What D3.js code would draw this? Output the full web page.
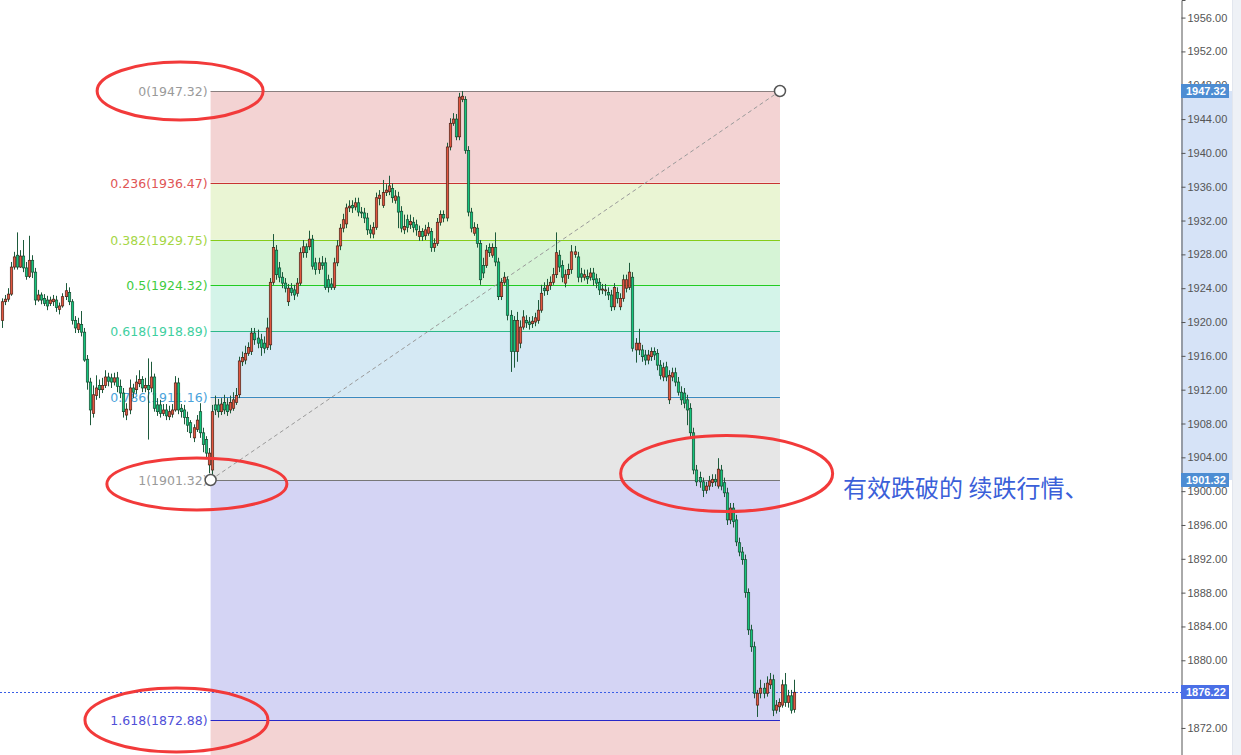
<!DOCTYPE html>
<html><head><meta charset="utf-8">
<script src="https://cdn.jsdelivr.net/npm/d3@7"></script>
<style>html,body{margin:0;padding:0;background:#fff;overflow:hidden}</style>
</head><body><svg id="c" width="1241" height="755"></svg>
<script>
// ---- data ----
const opens = [
1920.2,1922.4,1922.7,1923.3,1926.5,1927.9,1926.5,1927.8,1926.4,1925.4,
1927.3,1925.9,1922.6,1923.2,1922.8,1922.6,1922.2,1922.4,1922.6,1921.5,
1921.9,1923.0,1923.5,1922.4,1920.2,1919.1,1919.7,1918.8,1915.6,1912.9,
1909.2,1911.3,1912.5,1912.0,1912.5,1913.5,1913.4,1912.9,1913.4,1912.4,
1911.6,1909.0,1909.6,1912.2,1912.0,1912.7,1913.2,1912.2,1912.5,1912.2,
1913.5,1910.2,1910.2,1909.2,1909.6,1908.8,1909.1,1909.6,1912.8,1909.8,
1909.6,1908.7,1908.1,1906.3,1907.3,1909.4,1906.9,1906.1,1903.1,1902.5,
1910.2,1910.2,1909.4,1910.5,1910.2,1909.6,1909.8,1910.5,1911.4,1915.3,
1915.5,1916.3,1916.5,1918.7,1918.1,1917.9,1917.5,1917.0,1917.3,1924.7,
1928.5,1926.4,1925.3,1924.6,1922.4,1924.0,1923.8,1923.4,1924.6,1928.2,
1928.9,1928.9,1929.8,1927.0,1926.2,1927.0,1927.0,1925.0,1924.5,1924.1,
1927.0,1929.0,1931.1,1931.6,1933.5,1933.8,1933.6,1934.1,1933.0,1932.9,
1932.3,1930.9,1930.4,1931.2,1934.6,1933.8,1935.3,1935.4,1935.8,1934.4,
1934.8,1933.1,1930.9,1932.1,1931.5,1931.8,1931.5,1930.1,1930.7,1930.2,
1930.5,1930.7,1928.8,1929.3,1931.8,1932.7,1932.3,1940.7,1943.5,1944.0,
1941.9,1946.3,1946.3,1940.3,1933.0,1930.5,1931.1,1929.3,1926.7,1926.7,
1928.8,1927.9,1928.8,1927.1,1923.0,1924.7,1925.0,1920.8,1920.2,1916.5,
1917.5,1919.4,1920.2,1920.0,1919.8,1920.0,1920.2,1921.4,1924.0,1923.7,
1924.3,1924.7,1925.6,1927.9,1926.7,1924.6,1925.6,1926.2,1928.0,1927.7,
1925.7,1925.3,1925.4,1925.3,1925.8,1925.1,1924.7,1923.8,1923.7,1923.5,
1923.2,1921.8,1923.5,1921.8,1922.8,1924.0,1924.1,1925.3,1916.7,1916.7,
1916.7,1916.1,1915.5,1915.9,1916.5,1916.3,1914.9,1913.5,1914.7,1910.8,
1913.5,1914.0,1912.9,1911.7,1911.6,1910.8,1909.8,1906.9,1902.5,1901.6,
1901.1,1900.1,1900.6,1901.0,1901.4,1900.6,1902.5,1901.0,1899.8,1896.6,
1898.0,1896.6,1893.9,1892.8,1891.9,1888.0,1883.6,1881.6,1874.7,1876.1,
1876.7,1876.1,1877.1,1877.7,1874.1,1874.5,1874.7,1877.1,1875.0,1875.8,
1874.2];
const highs = [
1922.8,1923.2,1924.0,1927.1,1928.3,1930.6,1928.5,1929.7,1927.1,1930.2,
1927.9,1926.4,1923.8,1923.5,1923.3,1923.1,1923.0,1923.2,1923.1,1922.3,
1923.4,1924.6,1924.1,1922.7,1920.7,1920.5,1921.3,1919.3,1916.1,1913.4,
1912.5,1913.7,1913.2,1913.4,1914.3,1914.0,1913.9,1914.0,1914.1,1913.2,
1912.2,1910.4,1913.2,1912.7,1913.7,1914.3,1913.6,1913.4,1915.7,1915.3,
1913.9,1911.0,1910.8,1910.3,1910.3,1910.1,1910.3,1913.6,1913.4,1910.3,
1910.2,1909.4,1908.4,1907.9,1909.0,1910.4,1907.5,1906.5,1905.1,1910.2,
1911.3,1910.9,1911.0,1911.4,1911.0,1911.3,1911.7,1912.2,1915.9,1916.5,
1917.2,1917.6,1919.3,1919.3,1919.1,1918.6,1918.3,1920.5,1925.2,1930.4,
1929.1,1927.1,1925.9,1925.2,1924.5,1924.6,1924.4,1925.2,1928.8,1929.7,
1929.3,1930.8,1930.3,1927.6,1927.6,1927.8,1927.6,1925.6,1925.2,1927.6,
1929.7,1931.6,1932.8,1934.0,1934.4,1934.4,1934.7,1934.7,1933.6,1933.5,
1932.9,1931.5,1931.8,1935.3,1935.6,1936.8,1936.3,1937.3,1936.4,1935.6,
1935.4,1933.7,1932.7,1932.7,1932.7,1932.4,1932.1,1931.4,1931.1,1931.5,
1931.8,1931.1,1929.9,1932.3,1933.2,1933.2,1941.2,1944.1,1944.7,1944.6,
1947.1,1947.32,1946.7,1940.8,1933.5,1931.8,1931.6,1929.7,1927.6,1929.1,
1929.3,1929.3,1930.6,1927.6,1925.2,1925.9,1925.4,1921.4,1920.7,1921.2,
1920.2,1921.4,1920.8,1920.6,1920.7,1921.1,1922.6,1924.4,1924.7,1925.1,
1925.4,1926.4,1930.6,1928.5,1927.3,1926.2,1926.9,1929.1,1929.0,1928.3,
1926.4,1926.2,1926.2,1926.4,1926.4,1925.7,1925.2,1924.5,1924.5,1924.1,
1923.8,1924.6,1924.1,1923.4,1925.6,1925.6,1927.0,1925.9,1918.1,1919.2,
1917.3,1916.7,1916.7,1917.0,1917.0,1916.8,1915.5,1915.2,1915.3,1914.3,
1914.6,1914.6,1913.5,1912.4,1912.2,1911.4,1910.4,1907.5,1903.1,1902.3,
1901.6,1901.1,1901.8,1902.0,1902.0,1903.9,1903.1,1901.6,1900.4,1898.6,
1898.6,1897.2,1894.5,1893.4,1892.5,1888.5,1884.2,1882.2,1876.5,1877.7,
1877.3,1878.1,1878.5,1878.3,1875.3,1875.5,1877.7,1878.5,1876.5,1876.5,
1877.7];
const lows = [
1919.3,1922.0,1922.4,1923.1,1926.2,1926.2,1926.4,1925.9,1925.0,1925.2,
1925.2,1922.0,1922.4,1922.1,1921.9,1921.4,1921.9,1921.9,1921.2,1920.9,
1921.7,1922.6,1922.0,1919.7,1918.7,1918.7,1918.3,1915.3,1912.0,1907.8,
1908.7,1910.8,1911.0,1911.6,1912.2,1912.4,1912.2,1912.5,1911.7,1911.0,
1908.7,1908.4,1909.1,1911.0,1911.5,1912.3,1911.7,1911.7,1906.1,1911.7,
1909.4,1908.9,1908.7,1908.9,1908.4,1908.4,1908.7,1909.4,1909.1,1908.7,
1907.9,1907.0,1906.3,1905.8,1907.0,1906.3,1904.6,1903.9,1902.1,1901.32,
1909.0,1908.7,1909.0,1909.1,1908.9,1909.2,1909.5,1910.2,1911.0,1914.8,
1915.0,1916.0,1916.1,1917.3,1916.9,1916.0,1916.3,1916.7,1916.7,1924.4,
1925.0,1924.7,1924.0,1923.5,1921.9,1923.1,1922.6,1923.0,1924.3,1927.6,
1927.6,1928.5,1926.2,1925.6,1925.7,1926.2,1923.8,1923.5,1923.8,1923.8,
1926.6,1928.5,1930.6,1931.1,1933.0,1932.9,1933.2,1932.5,1932.3,1931.7,
1930.3,1929.9,1929.9,1930.9,1933.8,1933.5,1934.9,1935.0,1934.1,1934.0,
1931.1,1930.6,1930.4,1930.6,1931.0,1930.6,1930.2,1929.6,1929.6,1929.7,
1930.2,1928.3,1928.3,1929.0,1931.4,1931.8,1931.9,1940.3,1943.2,1941.5,
1941.5,1946.0,1939.9,1932.5,1930.6,1930.2,1928.8,1924.4,1925.2,1926.4,
1927.7,1927.6,1926.6,1922.6,1922.6,1924.4,1920.2,1914.1,1914.6,1915.3,
1916.9,1919.1,1919.3,1919.1,1919.3,1919.5,1919.8,1921.1,1923.1,1923.2,
1923.8,1924.4,1925.2,1925.9,1924.7,1924.1,1925.1,1925.7,1927.6,1924.7,
1924.7,1924.9,1924.5,1924.9,1924.3,1924.0,1923.2,1923.3,1923.1,1922.6,
1921.3,1921.4,1922.2,1921.4,1922.4,1923.5,1923.8,1916.5,1915.2,1916.1,
1915.3,1914.9,1915.0,1915.4,1915.5,1914.3,1913.2,1913.0,1913.0,1910.3,
1913.0,1912.4,1911.3,1910.2,1909.8,1907.8,1906.4,1902.0,1900.6,1900.4,
1899.3,1899.7,1900.1,1900.5,1900.6,1900.3,1900.1,1899.3,1896.0,1896.1,
1895.7,1893.5,1892.3,1891.3,1887.4,1883.0,1881.0,1875.5,1873.3,1875.5,
1875.5,1875.7,1876.6,1873.4,1873.7,1873.9,1874.4,1874.5,1874.4,1873.7,
1873.8];
const closes = [
1922.4,1922.7,1923.3,1926.5,1927.7,1926.5,1927.8,1926.4,1925.4,1927.3,
1925.9,1922.6,1923.2,1922.6,1922.2,1921.9,1922.6,1922.7,1921.7,1921.9,
1923.0,1923.7,1922.4,1920.2,1919.3,1919.8,1918.8,1915.5,1912.9,1909.6,
1911.4,1912.2,1912.0,1912.5,1913.5,1913.0,1912.9,1913.4,1912.4,1911.6,
1909.4,1909.7,1912.2,1911.7,1912.9,1913.2,1912.2,1912.5,1912.0,1913.5,
1909.8,1909.4,1909.2,1909.6,1908.9,1909.4,1909.6,1912.8,1909.6,1909.4,
1908.7,1907.8,1906.9,1907.5,1908.4,1906.9,1905.5,1904.5,1904.5,1909.4,
1909.6,1909.4,1910.3,1909.6,1909.4,1910.5,1910.8,1911.3,1915.4,1915.8,
1916.3,1917.0,1918.7,1917.9,1917.5,1917.0,1916.9,1919.3,1924.7,1928.8,
1925.6,1925.3,1924.6,1924.0,1924.0,1923.5,1923.2,1924.6,1928.2,1928.9,
1928.2,1929.8,1926.6,1926.2,1927.0,1926.7,1924.1,1924.1,1924.1,1927.0,
1929.0,1931.1,1932.1,1933.5,1933.7,1933.5,1934.1,1933.0,1932.9,1932.3,
1930.9,1930.5,1931.2,1934.7,1935.0,1935.3,1935.6,1936.1,1934.7,1934.9,
1933.0,1931.1,1931.3,1931.2,1931.9,1931.2,1930.9,1930.7,1930.1,1930.9,
1931.2,1928.8,1929.3,1931.8,1932.7,1932.3,1940.7,1943.5,1944.0,1941.9,
1946.6,1946.7,1940.3,1933.0,1931.1,1931.2,1929.3,1925.0,1925.8,1928.5,
1928.2,1928.8,1927.1,1923.0,1924.7,1925.3,1920.8,1916.5,1916.5,1920.2,
1919.4,1920.6,1919.9,1919.7,1920.1,1920.5,1921.4,1923.4,1923.7,1924.3,
1924.7,1925.6,1928.2,1926.5,1925.3,1925.6,1926.2,1928.3,1928.3,1925.3,
1925.3,1925.6,1925.1,1925.8,1925.0,1924.6,1923.8,1923.9,1923.8,1923.2,
1921.8,1924.1,1922.8,1922.8,1925.0,1925.0,1925.9,1916.9,1917.5,1917.5,
1915.9,1915.5,1916.1,1916.5,1916.1,1914.9,1913.7,1914.6,1913.5,1913.7,
1914.0,1912.9,1911.7,1910.8,1910.4,1909.6,1906.9,1902.5,1901.1,1901.1,
1900.1,1900.6,1901.2,1901.4,1901.1,1902.6,1900.6,1899.8,1896.6,1898.0,
1896.4,1894.0,1892.8,1891.9,1888.0,1883.6,1881.6,1876.1,1876.1,1876.7,
1876.1,1877.3,1877.7,1874.1,1874.7,1875.0,1877.1,1875.0,1875.8,1874.1,
1876.22];

const fibRatios = ["0","0.236","0.382","0.5","0.618","0.786","1","1.618"];
const fibPrices = [1947.32,1936.47,1929.75,1924.32,1918.89,1911.16,1901.32,1872.88];
const fibExtPrice = 1826.89; // 2.618 level (below view)
const priceTicks = [1872,1876,1880,1884,1888,1892,1896,1900,1904,1908,1912,1916,1920,1924,1928,1932,1936,1940,1944,1948,1952,1956];
const annotationText = "有效跌破的 续跌行情、";

// ---- styles ----
const zoneFill = ["#f3d3d3","#eaf5d4","#d6f4d6","#d4f4e9","#d5e9f4","#e6e6e6","#d4d4f4","#f3d3d3"];
const lineColor = ["#8a7f7f","#c83232","#86cc1a","#22cc22","#2db88a","#3a8ac0","#777777","#2828c8"];
const labelColor = ["#9a9a9a","#e05555","#a5d645","#3fcc3f","#3fcf9f","#4aa3db","#9a9a9a","#5050d8"];

const svg = d3.select("#c");
const W = 1241, H = 755, axisX = 1181;
const y = d3.scaleLinear().domain([1868.80, 1958.08]).range([H, 0]);
const x = d3.scaleLinear().domain([0, closes.length - 1]).range([1.5, 794]);
const fibFrom = 68.6, fibTo = 255.4;

svg.append("rect").attr("width", W).attr("height", H).attr("fill", "#fff");
const plot = svg.append("g");
svg.append("clipPath").attr("id","clip").append("rect").attr("width", axisX).attr("height", H);
plot.attr("clip-path","url(#clip)");

// fib zones
const zoneEdges = fibPrices.concat([fibExtPrice]);
for (let i = 0; i < zoneEdges.length - 1; i++) {
  plot.append("rect")
    .attr("x", x(fibFrom)).attr("width", x(fibTo) - x(fibFrom))
    .attr("y", y(zoneEdges[i])).attr("height", y(zoneEdges[i+1]) - y(zoneEdges[i]))
    .attr("fill", zoneFill[i]);
}
// fib lines + labels
fibPrices.forEach((p, i) => {
  const yy = Math.round(y(p)) + 0.5;
  plot.append("line").attr("x1", x(fibFrom)).attr("x2", x(fibTo))
    .attr("y1", yy).attr("y2", yy).attr("stroke", lineColor[i]).attr("stroke-width", 1);
  plot.append("text").attr("x", x(fibFrom) - 3).attr("y", yy + 4.5)
    .attr("text-anchor", "end").attr("font-family", "DejaVu Sans, Verdana, sans-serif")
    .attr("font-size", 12.5).attr("fill", labelColor[i])
    .text(fibRatios[i] + "(" + p.toFixed(2) + ")");
});
// diagonal dashed trend line
plot.append("line").attr("x1", x(fibFrom)).attr("y1", y(fibPrices[6]))
  .attr("x2", x(fibTo)).attr("y2", y(fibPrices[0]))
  .attr("stroke", "#9a9a9a").attr("stroke-width", 1).attr("stroke-dasharray", "4,3");

// current price line
const last = closes[closes.length - 1];
const yLast = Math.round(y(last)) + 0.5;
plot.append("line").attr("x1", 0).attr("x2", axisX).attr("y1", yLast).attr("y2", yLast)
  .attr("stroke", "#3a5ee6").attr("stroke-width", 1).attr("stroke-dasharray", "2,2");

// candles
const idx = d3.range(closes.length);
const cg = plot.append("g");
cg.selectAll("line.w").data(idx).join("line").attr("class","w")
  .attr("x1", i => Math.round(x(i)) + 0.5).attr("x2", i => Math.round(x(i)) + 0.5)
  .attr("y1", i => y(highs[i])).attr("y2", i => y(lows[i]))
  .attr("stroke", "#1d5a3b").attr("stroke-width", 1);
cg.selectAll("rect.b").data(idx).join("rect").attr("class","b")
  .attr("x", i => Math.round(x(i)) - 0.7).attr("width", 2.4)
  .attr("y", i => y(Math.max(opens[i], closes[i])))
  .attr("height", i => Math.max(1, Math.abs(y(opens[i]) - y(closes[i]))))
  .attr("fill", i => closes[i] >= opens[i] ? "#e2553f" : "#15c47c")
  .attr("stroke", i => closes[i] >= opens[i] ? "#4a2418" : "#164a30")
  .attr("stroke-width", 0.7);

// end-point handles
[[fibFrom, fibPrices[6]], [fibTo, fibPrices[0]]].forEach(([i, p]) => {
  plot.append("circle").attr("cx", x(i)).attr("cy", y(p)).attr("r", 5.5)
    .attr("fill", "#fff").attr("stroke", "#555").attr("stroke-width", 1.5);
});

// ---- right price axis ----
svg.append("rect").attr("x", axisX).attr("y", y(fibPrices[0])).attr("width", 51)
  .attr("height", y(fibPrices[6]) - y(fibPrices[0])).attr("fill", "#d6e3f7");
svg.append("rect").attr("x", 1232).attr("y", 0).attr("width", 9).attr("height", H).attr("fill", "#eef1f6");
svg.append("line").attr("x1", 1232.5).attr("x2", 1232.5).attr("y1", 0).attr("y2", H).attr("stroke", "#e2e6ee");
const ax = svg.append("g").attr("transform", `translate(${axisX + 0.5},0)`)
  .call(d3.axisRight(y).tickValues(priceTicks).tickSize(4).tickPadding(2).tickFormat(d => d.toFixed(2)));
ax.select(".domain").attr("stroke", "#555");
ax.selectAll(".tick line").attr("stroke", "#555");
ax.selectAll(".tick text").attr("fill", "#555").attr("font-size", 11)
  .attr("font-family", "Liberation Sans, Arial, sans-serif");

const priceTags = [[fibPrices[0], "#4d8dd3"], [fibPrices[6], "#4d8dd3"], [last, "#4a6fe6"]];
priceTags.forEach(([p, col]) => {
  const yy = Math.round(y(p));
  svg.append("rect").attr("x", axisX).attr("y", yy - 7).attr("width", 48).attr("height", 14).attr("fill", col);
  svg.append("text").attr("x", axisX + 5).attr("y", yy + 4).attr("fill", "#fff")
    .attr("font-size", 11).attr("font-weight", "bold")
    .attr("font-family", "Liberation Sans, Arial, sans-serif").text(p.toFixed(2));
});

// ---- annotations ----
const ellipses = [
  {i: 58.6, p: 1947.32, rx: 83, ry: 29},
  {i: 64.1, p: 1900.85, rx: 90, ry: 26},
  {i: 237.9, p: 1902.09, rx: 106, ry: 38},
  {i: 57.4, p: 1872.94, rx: 91.5, ry: 32}
];
ellipses.forEach(e => {
  svg.append("ellipse").attr("cx", x(e.i)).attr("cy", y(e.p)).attr("rx", e.rx).attr("ry", e.ry)
    .attr("fill", "none").attr("stroke", "#f23a3a").attr("stroke-width", 3);
});
svg.append("text").attr("x", x(276.1)).attr("y", y(1899.31))
  .attr("font-family", "Noto Sans CJK SC, sans-serif").attr("font-size", 24)
  .attr("fill", "#3b5fd9").text(annotationText);
</script>
</body></html>
